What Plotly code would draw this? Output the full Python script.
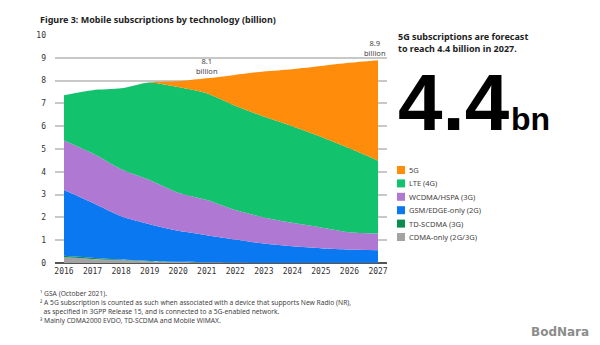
import plotly.graph_objects as go

# Years and subscriptions (billion) per technology, bottom of stack first
years = list(range(2016, 2028))

cdma = [0.25, 0.18, 0.12, 0.07, 0.04, 0.03, 0.02, 0.01, 0.01, 0.01, 0.01, 0.01]
td_scdma = [0.07, 0.05, 0.03, 0.02, 0.01, 0.0, 0.0, 0.0, 0.0, 0.0, 0.0, 0.0]
gsm = [2.88, 2.41, 1.90, 1.61, 1.36, 1.19, 1.01, 0.84, 0.72, 0.64, 0.58, 0.55]
wcdma = [2.17, 2.17, 2.06, 1.94, 1.67, 1.54, 1.29, 1.15, 1.03, 0.91, 0.76, 0.73]
lte = [1.99, 2.77, 3.55, 4.28, 4.64, 4.69, 4.58, 4.42, 4.24, 3.98, 3.68, 3.20]
fiveg = [0.0, 0.0, 0.0, 0.01, 0.25, 0.65, 1.35, 1.98, 2.50, 3.10, 3.75, 4.40]

series_names = ["CDMA-only (2G/3G)", "TD-SCDMA (3G)", "GSM/EDGE-only (2G)",
                "WCDMA/HSPA (3G)", "LTE (4G)", "5G"]
series_values = [cdma, td_scdma, gsm, wcdma, lte, fiveg]
series_colors = ["#a3a3a3", "#0a8c4e", "#0a78f0", "#af78d2", "#12c26c", "#ff8c0a"]

total_labels = [(2021, "8.1<br>billion", 0), (2027, "8.9<br>billion", -3)]

footnotes = [
    "¹ GSA (October 2021).",
    "² A 5G subscription is counted as such when associated with a device that supports New Radio (NR),",
    "&nbsp;&nbsp;as specified in 3GPP Release 15, and is connected to a 5G-enabled network.",
    "³ Mainly CDMA2000 EVDO, TD-SCDMA and Mobile WiMAX.",
]

FONT = "Noto Sans"
BIG_FONT = "Liberation Sans"
W, H = 600, 345
ML, MR, MT, MB = 55, 213, 35, 82
PW, PH = W - ML - MR, H - MT - MB


def px(x):
    """Figure pixel x -> paper coordinate."""
    return (x - ML) / PW


def py(y):
    """Figure pixel y (from top) -> paper coordinate."""
    return (H - MB - y) / PH


fig = go.Figure()

for name, vals, col in zip(series_names, series_values, series_colors):
    fig.add_trace(go.Scatter(
        x=years, y=vals, name=name, stackgroup="subs", mode="none",
        fillcolor=col, line=dict(width=0, shape="spline", smoothing=0.6),
        showlegend=False, hoverinfo="x+y+name",
    ))

totals = [sum(v[i] for v in series_values) for i in range(len(years))]

# Total subscription call-outs above the stack
for yr, txt, dx in total_labels:
    idx = years.index(yr)
    fig.add_annotation(x=yr, y=totals[idx], text=txt, showarrow=False,
                       yanchor="bottom", yshift=0, xshift=dx, xanchor="center",
                       font=dict(family=FONT, size=7.5, color="#444"))

# Legend: colored squares with labels, 5G at the top
leg_top = 170
row_h = 13.4
for i, (name, col) in enumerate(zip(reversed(series_names), reversed(series_colors))):
    yc = leg_top + i * row_h
    fig.add_shape(type="rect", xref="paper", yref="paper",
                  x0=px(397), x1=px(405), y0=py(yc + 4), y1=py(yc - 4),
                  fillcolor=col, line=dict(width=0), layer="above")
    fig.add_annotation(xref="paper", yref="paper", x=px(407), y=py(yc),
                       text=name, showarrow=False, xanchor="left", yanchor="middle",
                       font=dict(family=FONT, size=7.5, color="#444"))

# Headline figure
fig.add_annotation(xref="paper", yref="paper", x=px(396), y=py(28),
                   text="<b>5G subscriptions are forecast<br>to reach 4.4 billion in 2027.</b>",
                   showarrow=False, xanchor="left", yanchor="top", align="left",
                   font=dict(family=FONT, size=9, color="#222"))
fig.add_annotation(xref="paper", yref="paper", x=px(396), y=py(149),
                   text="<b>4.4</b>", showarrow=False, xanchor="left", yanchor="bottom",
                   font=dict(family=BIG_FONT, size=80, color="#000"))
fig.add_annotation(xref="paper", yref="paper", x=px(509), y=py(139),
                   text="<b>bn</b>", showarrow=False, xanchor="left", yanchor="bottom",
                   font=dict(family=BIG_FONT, size=32, color="#000"))

# Title
fig.add_annotation(xref="paper", yref="paper", x=px(38), y=py(11),
                   text="<b>Figure 3: Mobile subscriptions by technology (billion)</b>",
                   showarrow=False, xanchor="left", yanchor="top",
                   font=dict(family=FONT, size=9, color="#222"))

# Footnotes
for i, line in enumerate(footnotes):
    fig.add_annotation(xref="paper", yref="paper", x=px(38), y=py(293 + i * 9.3),
                       text=line, showarrow=False, xanchor="left", yanchor="middle",
                       font=dict(family=FONT, size=6.7, color="#444"))

# Watermark
fig.add_annotation(xref="paper", yref="paper", x=px(560), y=py(332),
                   text="<b>BodNara</b>", showarrow=False, xanchor="center", yanchor="middle",
                   font=dict(family="DejaVu Sans", size=12, color="#8c8c8c"))

fig.update_layout(
    width=W, height=H,
    margin=dict(l=ML, r=MR, t=MT, b=MB),
    paper_bgcolor="white", plot_bgcolor="white",
    xaxis=dict(range=[2015.685, 2027.315], tickmode="array", tickvals=years,
               ticktext=[str(y) for y in years], showgrid=False, zeroline=False,
               showline=False, ticks="", ticklabelstandoff=2,
               tickfont=dict(family="DejaVu Sans Mono", size=8, color="#333")),
    yaxis=dict(range=[0, 10], tickmode="array", tickvals=list(range(0, 11)),
               showgrid=True, gridcolor="#c8c8c8", gridwidth=1.5,
               zeroline=True, zerolinecolor="#555", zerolinewidth=2,
               showline=False, ticks="", ticklabelstandoff=8,
               tickfont=dict(family="DejaVu Sans Mono", size=8, color="#333")),
    showlegend=False,
)

fig.write_html("out.html")
